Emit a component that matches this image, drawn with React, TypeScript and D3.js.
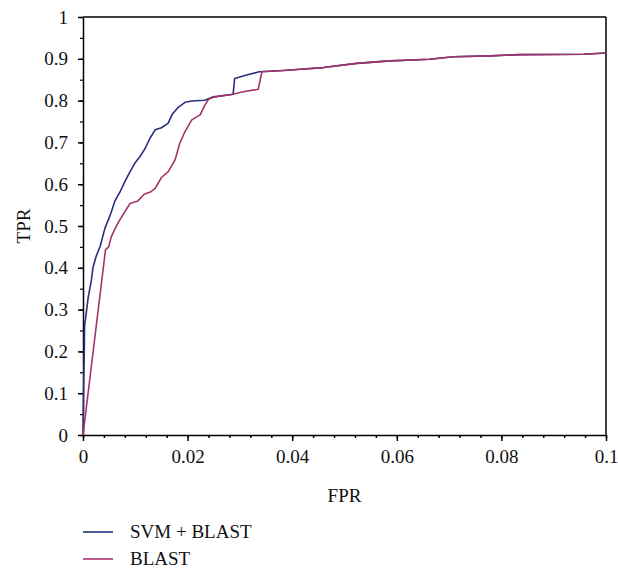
import React, { useEffect, useRef } from "react";
import * as d3 from "d3";

// ROC curves
const fprSvm = [
  0, 0.0001, 0.00025, 0.0003, 0.0006, 0.001, 0.0016, 0.0019, 0.0025, 0.0033,
  0.0042, 0.0052, 0.0061, 0.0071, 0.008, 0.009, 0.0099, 0.0109, 0.0119, 0.0128,
  0.0138, 0.015, 0.0163, 0.017, 0.0182, 0.0195, 0.0208, 0.0233, 0.0249, 0.0287,
  0.029, 0.0313, 0.0337, 0.0383, 0.0415, 0.046, 0.0523, 0.0587, 0.0663, 0.0708,
  0.0778, 0.0836, 0.0957, 0.1,
];
const tprSvm = [
  0, 0.1, 0.2, 0.26, 0.29, 0.33, 0.37, 0.4, 0.427, 0.452,
  0.495, 0.526, 0.56, 0.582, 0.606, 0.63, 0.65, 0.666, 0.686, 0.71,
  0.73, 0.735, 0.746, 0.766, 0.784, 0.796, 0.799, 0.801, 0.809, 0.815,
  0.853, 0.861, 0.869, 0.872, 0.875, 0.879, 0.889, 0.895, 0.899, 0.905,
  0.907, 0.91, 0.911, 0.914,
];
const fprBlast = [
  0, 0.0043, 0.0049, 0.0054, 0.006, 0.0068, 0.008, 0.009, 0.0105, 0.0117,
  0.013, 0.0138, 0.015, 0.0163, 0.0176, 0.0185, 0.0195, 0.0208, 0.0224, 0.0233,
  0.024, 0.0249, 0.0287, 0.0306, 0.0335, 0.0342, 0.0383, 0.0415, 0.046, 0.0523,
  0.0587, 0.0663, 0.0708, 0.0778, 0.0836, 0.0957, 0.1,
];
const tprBlast = [
  0, 0.443, 0.45, 0.474, 0.49, 0.51, 0.534, 0.554, 0.56, 0.576,
  0.582, 0.59, 0.616, 0.63, 0.658, 0.698, 0.726, 0.754, 0.766, 0.789,
  0.803, 0.808, 0.815, 0.821, 0.827, 0.869, 0.872, 0.875, 0.879, 0.889,
  0.895, 0.899, 0.905, 0.907, 0.91, 0.911, 0.914,
];
const seriesNames = ["SVM + BLAST", "BLAST"];
const seriesColors = ["#29307c", "#a3336a"];
const xTicks = [0, 0.02, 0.04, 0.06, 0.08, 0.1];
const yTicks = [0, 0.1, 0.2, 0.3, 0.4, 0.5, 0.6, 0.7, 0.8, 0.9, 1];

const width = 618;
const height = 568;
const margin = { top: 17, right: 12, bottom: 133, left: 83 };
const font = "'Liberation Serif', 'Times New Roman', serif";

export default function App() {
  const ref = useRef<SVGSVGElement>(null);

  useEffect(() => {
    const svg = d3.select(ref.current);
    svg.selectAll("*").remove();
    const w = width - margin.left - margin.right;
    const h = height - margin.top - margin.bottom;

    const x = d3.scaleLinear().domain([0, 0.1]).range([0, w]);
    const y = d3.scaleLinear().domain([0, 1]).range([h, 0]);

    const g = svg
      .append("g")
      .attr("transform", "translate(" + margin.left + "," + margin.top + ")");

    // frame on top and right
    g.append("line").attr("x1", 0).attr("x2", w).attr("y1", 0).attr("y2", 0)
      .attr("stroke", "#000").attr("stroke-width", 1.5);
    g.append("line").attr("x1", w).attr("x2", w).attr("y1", 0).attr("y2", h)
      .attr("stroke", "#000").attr("stroke-width", 1.5);

    // minor ticks
    const xMinor = d3.range(0, 0.1001, 0.004);
    g.append("g")
      .attr("transform", "translate(0," + h + ")")
      .call(d3.axisBottom(x).tickValues(xMinor).tickSize(3).tickFormat(() => ""))
      .call((a) => a.select(".domain").remove())
      .selectAll("line").attr("stroke-width", 1.5);
    const yMinor = d3.range(0, 1.001, 0.05);
    g.append("g")
      .call(d3.axisLeft(y).tickValues(yMinor).tickSize(3).tickFormat(() => ""))
      .call((a) => a.select(".domain").remove())
      .selectAll("line").attr("stroke-width", 1.2);

    // major axes
    const xAxis = g.append("g")
      .attr("transform", "translate(0," + h + ")")
      .call(d3.axisBottom(x).tickValues(xTicks).tickSize(6).tickSizeOuter(0)
        .tickFormat((d) => String(+d)).tickPadding(9));
    xAxis.select(".domain").attr("stroke-width", 1.5);
    xAxis.selectAll("line").attr("stroke-width", 1.5);
    xAxis.selectAll("text").style("font-family", font).style("font-size", "19px").attr("fill", "#111");

    const yAxis = g.append("g")
      .call(d3.axisLeft(y).tickValues(yTicks).tickSize(5).tickSizeOuter(0)
        .tickFormat((d) => String(+d)).tickPadding(10));
    yAxis.select(".domain").attr("stroke-width", 1.5);
    yAxis.selectAll("line").attr("stroke-width", 1.5);
    yAxis.selectAll("text").style("font-family", font).style("font-size", "19px").attr("fill", "#111");

    // curves
    const line = d3.line<[number, number]>()
      .x((d) => x(d[0]))
      .y((d) => y(d[1]));
    const svmData = fprSvm.map((f, i) => [f, tprSvm[i]] as [number, number]);
    const blastData = fprBlast.map((f, i) => [f, tprBlast[i]] as [number, number]);
    [svmData, blastData].forEach((data, i) => {
      g.append("path")
        .datum(data)
        .attr("fill", "none")
        .attr("stroke", seriesColors[i])
        .attr("stroke-width", 1.6)
        .attr("stroke-linejoin", "round")
        .attr("d", line);
    });

    // axis titles
    g.append("text")
      .attr("x", w / 2).attr("y", h + 67)
      .attr("text-anchor", "middle")
      .style("font-family", font).style("font-size", "19px").attr("fill", "#111")
      .text("FPR");
    g.append("text")
      .attr("transform", "translate(" + (-53) + "," + h / 2 + ") rotate(-90)")
      .attr("text-anchor", "middle")
      .style("font-family", font).style("font-size", "19px").attr("fill", "#111")
      .text("TPR");

    // legend
    const legend = svg.append("g").attr("transform", "translate(83,532)");
    seriesNames.forEach((name, i) => {
      legend.append("line")
        .attr("x1", 0).attr("x2", 30)
        .attr("y1", i * 27).attr("y2", i * 27)
        .attr("stroke", seriesColors[i]).attr("stroke-width", 1.6);
      legend.append("text")
        .attr("x", 47).attr("y", i * 27 + 6)
        .style("font-family", font).style("font-size", "19px").attr("fill", "#111")
        .text(name);
    });
  }, []);

  return (
    <svg
      ref={ref}
      width={width}
      height={height}
      style={{ position: "absolute", left: 0, top: 0, background: "#fff" }}
    />
  );
}
